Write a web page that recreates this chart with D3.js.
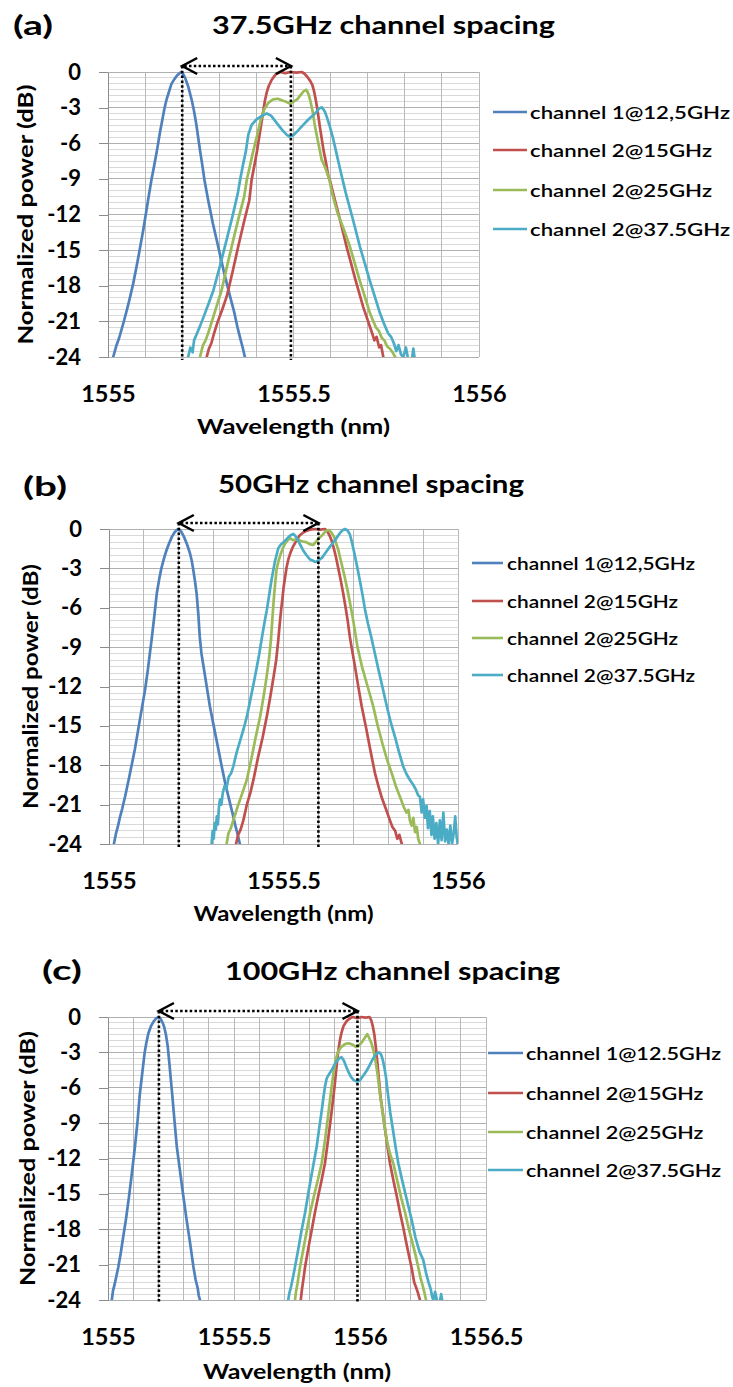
<!DOCTYPE html>
<html><head><meta charset="utf-8">
<script src="https://cdn.jsdelivr.net/npm/d3@7"></script>
<style>
body{margin:0;background:#fff}
svg{display:block}
text{font-family:Lato,"Open Sans","DejaVu Sans",sans-serif;fill:#000}
</style>
</head><body>
<svg id="chart" width="733" height="1387"></svg>
<script>
// ---------------- DATA ----------------
const panelLabels = ["(a)", "(b)", "(c)"];
const panelTitles = ["37.5GHz channel spacing", "50GHz channel spacing", "100GHz channel spacing"];
const legendAB = ["channel 1@12,5GHz", "channel 2@15GHz", "channel 2@25GHz", "channel 2@37.5GHz"];
const legendC  = ["channel 1@12.5GHz", "channel 2@15GHz", "channel 2@25GHz", "channel 2@37.5GHz"];
const seriesColors = ["#4f81bd", "#c0504d", "#9bbb59", "#4bacc6"];
const yTicks = [0, -3, -6, -9, -12, -15, -18, -21, -24];
const yDomain = [-24, 0];
const xTicksAB = [1555, 1555.5, 1556];
const xTicksC = [1555, 1555.5, 1556, 1556.5];
const xDomainAB = [1555, 1556];
const xDomainC = [1555, 1556.5];
const markersA = [1555.2, 1555.493];
const markersB = [1555.2, 1555.6];
const markersC = [1555.202, 1555.99];
const yTitle = "Normalized power (dB)";
const xTitle = "Wavelength (nm)";

// panel (a)
const a_ch1 = [[1555.014,-24],[1555.022,-23.1],[1555.030,-22.4],[1555.041,-21.2],[1555.052,-19.9],[1555.060,-18.9],[1555.068,-17.8],[1555.080,-15.9],[1555.095,-13.3],[1555.108,-10.8],[1555.117,-9.1],[1555.125,-7.8],[1555.132,-6.6],[1555.140,-5.1],[1555.146,-4.1],[1555.152,-3.1],[1555.158,-2.3],[1555.165,-1.6],[1555.171,-1.0],[1555.179,-0.6],[1555.186,-0.3],[1555.193,-0.1],[1555.198,0],[1555.203,-0.2],[1555.208,-0.5],[1555.216,-1.2],[1555.226,-2.4],[1555.232,-3.3],[1555.238,-4.4],[1555.248,-6.6],[1555.254,-7.8],[1555.260,-9.1],[1555.270,-10.8],[1555.283,-12.8],[1555.297,-14.7],[1555.313,-16.9],[1555.329,-18.9],[1555.340,-20.2],[1555.349,-21.5],[1555.357,-22.5],[1555.363,-23.2],[1555.369,-24]];
const a_ch2_15 = [[1555.266,-24],[1555.272,-23.3],[1555.279,-22.8],[1555.286,-22.0],[1555.296,-21.0],[1555.308,-20.0],[1555.320,-18.9],[1555.336,-16.8],[1555.351,-14.7],[1555.366,-12.7],[1555.381,-10.8],[1555.387,-9.1],[1555.395,-7.8],[1555.402,-6.6],[1555.408,-5.4],[1555.413,-4.4],[1555.418,-3.4],[1555.423,-2.4],[1555.428,-1.7],[1555.433,-1.2],[1555.441,-0.67],[1555.452,-0.2],[1555.464,0],[1555.478,-0.1],[1555.492,0],[1555.508,-0.05],[1555.522,0],[1555.530,-0.15],[1555.537,-0.4],[1555.545,-0.75],[1555.551,-1.1],[1555.556,-1.7],[1555.561,-2.5],[1555.566,-3.5],[1555.571,-4.6],[1555.576,-5.6],[1555.581,-6.6],[1555.588,-7.7],[1555.594,-8.8],[1555.598,-9.1],[1555.610,-10.6],[1555.625,-12.4],[1555.643,-14.7],[1555.655,-16.1],[1555.667,-17.5],[1555.678,-18.7],[1555.688,-19.8],[1555.700,-20.9],[1555.712,-22.0],[1555.718,-22.6],[1555.724,-22.3],[1555.731,-23.2],[1555.736,-23.0],[1555.742,-24]];
const a_ch2_25 = [[1555.248,-24],[1555.256,-23.0],[1555.263,-22.6],[1555.270,-22.0],[1555.280,-21.0],[1555.293,-19.7],[1555.306,-18.4],[1555.322,-16.2],[1555.338,-14.1],[1555.352,-12.3],[1555.367,-10.5],[1555.374,-9.1],[1555.382,-8.0],[1555.389,-7.0],[1555.396,-6.1],[1555.403,-5.2],[1555.412,-4.0],[1555.420,-3.2],[1555.432,-2.6],[1555.445,-2.3],[1555.458,-2.25],[1555.470,-2.4],[1555.480,-2.5],[1555.490,-2.65],[1555.500,-2.5],[1555.510,-2.3],[1555.520,-1.9],[1555.528,-1.6],[1555.535,-1.5],[1555.541,-1.9],[1555.546,-2.5],[1555.552,-3.4],[1555.558,-4.6],[1555.567,-6.0],[1555.576,-7.4],[1555.585,-8.0],[1555.597,-9.1],[1555.604,-10.2],[1555.618,-11.8],[1555.635,-13.2],[1555.652,-14.7],[1555.665,-16.1],[1555.678,-17.5],[1555.692,-18.9],[1555.706,-20.3],[1555.714,-20.9],[1555.722,-21.5],[1555.730,-21.8],[1555.738,-22.4],[1555.745,-22.6],[1555.752,-23.1],[1555.760,-23.3],[1555.767,-23.6],[1555.774,-24]];
const a_ch2_375 = [[1555.216,-24],[1555.222,-23.2],[1555.228,-23.6],[1555.232,-22.6],[1555.240,-22.0],[1555.248,-21.4],[1555.258,-20.6],[1555.270,-19.6],[1555.284,-18.4],[1555.302,-16.3],[1555.320,-14.1],[1555.336,-12.1],[1555.350,-10.2],[1555.356,-9.1],[1555.364,-7.8],[1555.372,-6.6],[1555.378,-5.3],[1555.387,-4.46],[1555.400,-4.0],[1555.415,-3.7],[1555.428,-3.48],[1555.440,-3.7],[1555.455,-4.3],[1555.470,-4.9],[1555.482,-5.3],[1555.490,-5.45],[1555.500,-5.3],[1555.510,-5.0],[1555.525,-4.5],[1555.540,-4.0],[1555.558,-3.5],[1555.570,-3.05],[1555.577,-2.98],[1555.584,-3.3],[1555.590,-3.8],[1555.598,-4.6],[1555.606,-5.5],[1555.614,-6.6],[1555.628,-8.5],[1555.641,-10.2],[1555.660,-12.4],[1555.679,-14.7],[1555.692,-16.1],[1555.705,-17.5],[1555.719,-18.9],[1555.733,-20.3],[1555.744,-21.2],[1555.755,-22.0],[1555.763,-22.3],[1555.770,-22.8],[1555.777,-23.5],[1555.783,-23.0],[1555.790,-23.8],[1555.796,-24],[1555.803,-23.2],[1555.808,-24],[1555.815,-25],[1555.820,-24],[1555.823,-23.3],[1555.826,-24]];

// panel (b)
const b_ch1 = [[1555.014,-24],[1555.020,-23.2],[1555.026,-22.6],[1555.031,-22.0],[1555.038,-21.3],[1555.046,-20.4],[1555.058,-18.9],[1555.074,-16.8],[1555.088,-14.6],[1555.103,-12.3],[1555.112,-10.6],[1555.117,-9.5],[1555.122,-8.46],[1555.130,-6.6],[1555.137,-4.9],[1555.144,-3.8],[1555.150,-3.0],[1555.158,-2.2],[1555.165,-1.6],[1555.172,-1.1],[1555.180,-0.6],[1555.188,-0.25],[1555.195,-0.05],[1555.200,0],[1555.207,-0.2],[1555.215,-0.6],[1555.224,-1.2],[1555.232,-1.85],[1555.237,-2.4],[1555.242,-3.2],[1555.247,-4.1],[1555.251,-4.9],[1555.256,-6.5],[1555.260,-8.2],[1555.265,-9.5],[1555.277,-11.5],[1555.289,-13.5],[1555.300,-15.0],[1555.312,-16.6],[1555.323,-18.1],[1555.334,-19.5],[1555.345,-20.7],[1555.356,-21.9],[1555.362,-22.6],[1555.368,-23.2],[1555.375,-24]];
const b_ch2_15 = [[1555.364,-24],[1555.370,-23.3],[1555.377,-22.9],[1555.385,-22.2],[1555.395,-21.0],[1555.405,-20.1],[1555.414,-19.1],[1555.427,-17.4],[1555.440,-15.9],[1555.452,-14.3],[1555.462,-12.8],[1555.472,-11.2],[1555.479,-10.0],[1555.485,-8.46],[1555.489,-7.3],[1555.493,-6.2],[1555.497,-5.3],[1555.500,-4.5],[1555.505,-3.6],[1555.509,-2.9],[1555.514,-2.3],[1555.520,-1.8],[1555.528,-1.3],[1555.538,-0.84],[1555.546,-0.5],[1555.555,-0.3],[1555.565,-0.15],[1555.576,-0.05],[1555.590,0],[1555.605,-0.05],[1555.619,0],[1555.626,-0.2],[1555.632,-0.5],[1555.638,-0.9],[1555.643,-1.35],[1555.650,-2.1],[1555.657,-3.0],[1555.664,-3.9],[1555.671,-4.9],[1555.678,-6.0],[1555.684,-7.0],[1555.690,-8.2],[1555.695,-9.0],[1555.703,-10.2],[1555.713,-11.8],[1555.724,-13.5],[1555.737,-15.2],[1555.750,-17.0],[1555.762,-18.6],[1555.772,-19.6],[1555.782,-20.5],[1555.793,-21.3],[1555.805,-22.2],[1555.812,-22.7],[1555.820,-23.0],[1555.826,-23.6],[1555.832,-23.3],[1555.839,-24]];
const b_ch2_25 = [[1555.337,-24],[1555.342,-23.2],[1555.349,-22.8],[1555.356,-22.2],[1555.368,-21.2],[1555.381,-20.2],[1555.395,-19.1],[1555.408,-17.5],[1555.420,-15.9],[1555.433,-14.3],[1555.444,-12.6],[1555.452,-11.2],[1555.458,-10.0],[1555.464,-8.46],[1555.468,-6.9],[1555.472,-5.4],[1555.476,-4.2],[1555.480,-3.1],[1555.486,-2.4],[1555.492,-1.9],[1555.499,-1.4],[1555.505,-1.1],[1555.512,-0.85],[1555.519,-0.71],[1555.527,-0.85],[1555.535,-0.8],[1555.545,-0.85],[1555.555,-0.95],[1555.565,-1.0],[1555.575,-1.15],[1555.585,-1.22],[1555.592,-1.0],[1555.600,-0.75],[1555.610,-0.5],[1555.618,-0.25],[1555.625,-0.1],[1555.631,-0.08],[1555.638,-0.3],[1555.645,-0.6],[1555.651,-1.1],[1555.657,-1.6],[1555.665,-2.5],[1555.674,-3.5],[1555.683,-4.6],[1555.691,-5.7],[1555.700,-7.0],[1555.712,-9.0],[1555.725,-10.5],[1555.741,-12.0],[1555.757,-13.5],[1555.770,-15.0],[1555.784,-16.4],[1555.797,-17.6],[1555.810,-18.6],[1555.822,-19.6],[1555.835,-20.5],[1555.845,-21.2],[1555.852,-21.6],[1555.858,-21.4],[1555.862,-22.2],[1555.867,-22.6],[1555.872,-22.0],[1555.877,-23.1],[1555.882,-22.7],[1555.886,-23.6],[1555.891,-24]];
const b_ch2_375 = [[1555.294,-24],[1555.297,-23.0],[1555.300,-23.6],[1555.303,-22.4],[1555.306,-22.9],[1555.309,-21.9],[1555.312,-22.5],[1555.315,-21.2],[1555.318,-20.6],[1555.322,-21.0],[1555.326,-20.1],[1555.331,-19.6],[1555.336,-19.8],[1555.343,-18.9],[1555.350,-18.6],[1555.356,-18.1],[1555.366,-17.0],[1555.376,-16.1],[1555.386,-15.2],[1555.395,-14.3],[1555.405,-13.0],[1555.415,-11.7],[1555.423,-10.6],[1555.430,-9.6],[1555.437,-8.46],[1555.445,-7.2],[1555.452,-6.2],[1555.458,-5.2],[1555.462,-4.5],[1555.467,-3.7],[1555.471,-3.1],[1555.476,-2.4],[1555.481,-1.9],[1555.485,-1.47],[1555.492,-1.2],[1555.500,-1.0],[1555.508,-0.8],[1555.515,-0.6],[1555.522,-0.45],[1555.528,-0.38],[1555.533,-0.5],[1555.538,-0.7],[1555.544,-1.0],[1555.550,-1.3],[1555.558,-1.7],[1555.566,-2.0],[1555.575,-2.3],[1555.583,-2.4],[1555.590,-2.5],[1555.595,-2.49],[1555.602,-2.35],[1555.610,-2.2],[1555.618,-1.9],[1555.626,-1.6],[1555.636,-1.25],[1555.645,-0.95],[1555.654,-0.6],[1555.662,-0.3],[1555.669,-0.1],[1555.676,0],[1555.683,-0.1],[1555.690,-0.4],[1555.696,-1.0],[1555.701,-1.6],[1555.705,-2.1],[1555.712,-3.0],[1555.720,-4.1],[1555.727,-5.1],[1555.734,-6.2],[1555.742,-7.2],[1555.752,-8.3],[1555.762,-9.5],[1555.772,-10.7],[1555.784,-12.1],[1555.796,-13.5],[1555.808,-14.8],[1555.820,-15.9],[1555.831,-17.0],[1555.843,-18.1],[1555.853,-18.7],[1555.862,-19.1],[1555.872,-19.5],[1555.880,-19.9],[1555.886,-20.3],[1555.891,-20.4],[1555.896,-21.6],[1555.900,-20.6],[1555.905,-22.0],[1555.910,-21.1],[1555.914,-22.8],[1555.919,-21.5],[1555.924,-23.3],[1555.928,-21.9],[1555.933,-23.6],[1555.938,-22.4],[1555.943,-24],[1555.948,-22.2],[1555.953,-23.7],[1555.958,-21.6],[1555.963,-23.8],[1555.968,-22.9],[1555.973,-24],[1555.978,-22.6],[1555.983,-24],[1555.988,-23.1],[1555.992,-21.9],[1555.996,-23.4],[1555.999,-24]];

// panel (c)
const c_ch1 = [[1555.015,-24],[1555.020,-23.2],[1555.026,-22.7],[1555.033,-22.0],[1555.041,-21.2],[1555.050,-20.1],[1555.060,-18.7],[1555.071,-17.2],[1555.083,-15.3],[1555.095,-13.2],[1555.107,-11.0],[1555.117,-8.9],[1555.126,-6.6],[1555.133,-5.3],[1555.139,-4.2],[1555.145,-3.1],[1555.152,-2.2],[1555.160,-1.4],[1555.170,-0.8],[1555.182,-0.35],[1555.193,-0.08],[1555.202,0],[1555.209,-0.15],[1555.216,-0.45],[1555.223,-0.85],[1555.230,-1.5],[1555.237,-2.5],[1555.243,-3.8],[1555.249,-5.2],[1555.255,-6.6],[1555.263,-8.6],[1555.273,-11.0],[1555.286,-13.1],[1555.299,-15.2],[1555.312,-17.2],[1555.326,-19.2],[1555.339,-21.2],[1555.348,-22.3],[1555.356,-23.0],[1555.360,-23.6],[1555.365,-24]];
const c_ch2_15 = [[1555.765,-24],[1555.769,-23.2],[1555.775,-22.3],[1555.782,-21.2],[1555.795,-19.6],[1555.808,-18.1],[1555.821,-16.6],[1555.834,-15.2],[1555.848,-13.8],[1555.861,-12.4],[1555.874,-10.3],[1555.887,-8.1],[1555.899,-5.9],[1555.906,-4.4],[1555.913,-3.0],[1555.920,-2.0],[1555.927,-1.3],[1555.934,-0.8],[1555.945,-0.4],[1555.955,-0.2],[1555.965,-0.05],[1555.973,0],[1555.990,-0.1],[1556.005,0],[1556.022,-0.05],[1556.038,0],[1556.045,-0.3],[1556.051,-0.8],[1556.057,-1.5],[1556.063,-2.6],[1556.069,-3.9],[1556.075,-5.3],[1556.081,-6.7],[1556.092,-8.4],[1556.105,-10.4],[1556.119,-12.4],[1556.132,-13.8],[1556.146,-15.2],[1556.159,-16.6],[1556.172,-17.9],[1556.185,-19.3],[1556.198,-20.6],[1556.206,-21.4],[1556.215,-22.5],[1556.222,-22.9],[1556.230,-23.4],[1556.238,-24]];
const c_ch2_25 = [[1555.742,-24],[1555.746,-23.3],[1555.752,-22.6],[1555.762,-21.2],[1555.775,-19.7],[1555.789,-18.1],[1555.802,-16.6],[1555.817,-15.2],[1555.833,-13.8],[1555.848,-12.4],[1555.862,-10.3],[1555.875,-8.1],[1555.887,-6.0],[1555.896,-4.6],[1555.905,-3.5],[1555.914,-2.9],[1555.925,-2.55],[1555.940,-2.3],[1555.954,-2.23],[1555.965,-2.3],[1555.975,-2.4],[1555.985,-2.55],[1555.993,-2.5],[1556.005,-2.2],[1556.018,-1.8],[1556.029,-1.45],[1556.037,-1.8],[1556.045,-2.2],[1556.053,-2.8],[1556.060,-3.5],[1556.070,-4.9],[1556.079,-6.5],[1556.092,-8.4],[1556.106,-10.4],[1556.119,-11.6],[1556.132,-12.4],[1556.148,-13.9],[1556.163,-15.3],[1556.179,-16.6],[1556.194,-18.0],[1556.210,-19.3],[1556.225,-20.6],[1556.234,-21.5],[1556.242,-22.3],[1556.249,-22.8],[1556.256,-23.4],[1556.262,-24]];
const c_ch2_375 = [[1555.715,-24],[1555.720,-23.4],[1555.726,-22.9],[1555.733,-22.2],[1555.742,-21.2],[1555.755,-19.7],[1555.768,-18.1],[1555.782,-16.6],[1555.796,-14.8],[1555.812,-12.9],[1555.828,-11.0],[1555.841,-9.0],[1555.849,-7.8],[1555.855,-6.8],[1555.861,-5.9],[1555.868,-5.2],[1555.877,-4.85],[1555.888,-4.5],[1555.900,-4.0],[1555.911,-3.65],[1555.920,-3.48],[1555.927,-3.42],[1555.936,-3.7],[1555.945,-4.2],[1555.955,-4.7],[1555.965,-5.1],[1555.975,-5.35],[1555.989,-5.5],[1556.000,-5.35],[1556.012,-5.0],[1556.025,-4.6],[1556.038,-4.1],[1556.050,-3.6],[1556.062,-3.2],[1556.070,-3.05],[1556.077,-3.0],[1556.084,-3.2],[1556.090,-3.6],[1556.097,-4.3],[1556.103,-5.1],[1556.110,-6.4],[1556.120,-8.1],[1556.131,-9.6],[1556.141,-11.0],[1556.152,-12.4],[1556.169,-14.0],[1556.187,-15.6],[1556.205,-17.2],[1556.220,-18.7],[1556.236,-19.9],[1556.251,-20.6],[1556.262,-21.7],[1556.272,-22.5],[1556.281,-23.1],[1556.286,-23.7],[1556.291,-24],[1556.298,-23.3],[1556.305,-24],[1556.312,-25],[1556.318,-24],[1556.322,-23.5],[1556.326,-24]];

// ---------------- LAYOUT (positions only) ----------------
const layout = [
  {top:72, bottom:357, left:108, right:479, labelX:13, labelY:35, labelW:40, titleX:212, titleY:34, titleW:343,
   legX1:493, legX2:527, legTX:530, legY:[112,150,190,229], legW0:200, yTitleX:33, yTitleW:260, xTitleY:434, xTitleW:193},
  {top:529, bottom:844, left:109, right:458, labelX:23, labelY:496, labelW:44, titleX:218, titleY:493, titleW:306,
   legX1:472, legX2:503, legTX:507, legY:[563,601,638,675], legW0:188, yTitleX:38, yTitleW:245, xTitleY:921, xTitleW:180},
  {top:1017, bottom:1300, left:108, right:486, labelX:42, labelY:980, labelW:40, titleX:225, titleY:980, titleW:335,
   legX1:488, legX2:523, legTX:526, legY:[1053,1093,1132,1170], legW0:195, yTitleX:35, yTitleW:255, xTitleY:1379, xTitleW:188}
];

const panels = [
  {series:[a_ch1,a_ch2_15,a_ch2_25,a_ch2_375], names:legendAB, xDomain:xDomainAB, xTicks:xTicksAB, markers:markersA},
  {series:[b_ch1,b_ch2_15,b_ch2_25,b_ch2_375], names:legendAB, xDomain:xDomainAB, xTicks:xTicksAB, markers:markersB},
  {series:[c_ch1,c_ch2_15,c_ch2_25,c_ch2_375], names:legendC, xDomain:xDomainC, xTicks:xTicksC, markers:markersC}
];

// ---------------- DRAW ----------------
const svg = d3.select("#chart");
svg.append("rect").attr("width",733).attr("height",1387).attr("fill","#fff");

panels.forEach((p, i) => {
  const L = layout[i];
  const x = d3.scaleLinear().domain(p.xDomain).range([L.left, L.right]);
  const y = d3.scaleLinear().domain(yDomain).range([L.bottom, L.top]);
  const g = svg.append("g");

  // minor horizontal gridlines (0.5 dB)
  g.append("g").selectAll("line").data(y.ticks(48)).join("line")
    .attr("x1", L.left).attr("x2", L.right)
    .attr("y1", d => y(d)).attr("y2", d => y(d))
    .attr("stroke", "#d9d9d9").attr("stroke-width", 1).attr("shape-rendering","crispEdges");
  // vertical gridlines (0.1 nm)
  const nV = Math.round((p.xDomain[1]-p.xDomain[0])*10);
  g.append("g").selectAll("line").data(x.ticks(nV)).join("line")
    .attr("x1", d => x(d)).attr("x2", d => x(d))
    .attr("y1", L.top).attr("y2", L.bottom)
    .attr("stroke", "#b9b9b9").attr("stroke-width", 1).attr("shape-rendering","crispEdges");
  // major horizontal gridlines
  g.append("g").selectAll("line").data(yTicks).join("line")
    .attr("x1", L.left).attr("x2", L.right)
    .attr("y1", d => y(d)).attr("y2", d => y(d))
    .attr("stroke", "#b0b0b0").attr("stroke-width", 1).attr("shape-rendering","crispEdges");

  // y axis
  const ya = g.append("g").attr("transform", `translate(${L.left},0)`)
    .call(d3.axisLeft(y).tickValues(yTicks).tickSize(9).tickSizeOuter(0).tickPadding(18).tickFormat(d => String(d)));
  ya.select(".domain").attr("stroke", "#8c8c8c").attr("shape-rendering","crispEdges");
  ya.selectAll(".tick line").attr("stroke", "#8c8c8c").attr("shape-rendering","crispEdges");
  ya.selectAll(".tick text").attr("font-family", "Lato, sans-serif").attr("font-size", 22)
    .attr("font-weight", 700).attr("fill", "#000");

  // x axis labels
  const xa = g.append("g").attr("transform", `translate(0,${L.bottom})`)
    .call(d3.axisBottom(x).tickValues(p.xTicks).tickSize(0).tickPadding(28).tickFormat(d => String(d)));
  xa.select(".domain").remove();
  xa.selectAll(".tick text").attr("font-family", "Lato, sans-serif").attr("font-size", 23.5)
    .attr("font-weight", 700).attr("fill", "#000");

  // curves
  const clipId = "clip" + i;
  svg.append("defs").append("clipPath").attr("id", clipId).append("rect")
    .attr("x", L.left).attr("y", L.top - 2).attr("width", L.right - L.left).attr("height", L.bottom - L.top + 2);
  const line = d3.line().x(d => x(d[0])).y(d => y(d[1]));
  g.append("g").attr("clip-path", `url(#${clipId})`).selectAll("path").data(p.series).join("path")
    .attr("d", line).attr("fill", "none")
    .attr("stroke", (d, k) => seriesColors[k]).attr("stroke-width", 2.7)
    .attr("stroke-linejoin", "round").attr("stroke-linecap", "round");

  // dotted markers
  const ay = L.top - 6;
  g.append("g").selectAll("line").data(p.markers).join("line")
    .attr("x1", d => x(d)).attr("x2", d => x(d))
    .attr("y1", ay).attr("y2", L.bottom + 3)
    .attr("stroke", "#000").attr("stroke-width", 2.6).attr("stroke-dasharray", "2.5,2.3");
  // arrow
  const x1 = x(p.markers[0]), x2 = x(p.markers[1]);
  g.append("line").attr("x1", x1 + 2).attr("x2", x2 - 2).attr("y1", ay).attr("y2", ay)
    .attr("stroke", "#000").attr("stroke-width", 2.6).attr("stroke-dasharray", "2.5,2.3");
  g.append("path").attr("d", `M${x1+15},${ay-8} L${x1},${ay} L${x1+15},${ay+8}`)
    .attr("fill", "none").attr("stroke", "#000").attr("stroke-width", 2.5);
  g.append("path").attr("d", `M${x2-15},${ay-8} L${x2},${ay} L${x2-15},${ay+8}`)
    .attr("fill", "none").attr("stroke", "#000").attr("stroke-width", 2.5);

  // legend
  const leg = g.append("g");
  const rows = leg.selectAll("g").data(p.names).join("g");
  rows.append("line").attr("x1", L.legX1).attr("x2", L.legX2)
    .attr("y1", (d, k) => L.legY[k]).attr("y2", (d, k) => L.legY[k])
    .attr("stroke", (d, k) => seriesColors[k]).attr("stroke-width", 2.6);
  const lt = rows.append("text").attr("x", L.legTX).attr("y", (d, k) => L.legY[k] + 7)
    .attr("font-size", 18).attr("font-weight", 600).text(d => d);
  const nat = lt.nodes().map(n => n.getComputedTextLength());
  const kk = L.legW0 / nat[0];
  lt.attr("textLength", (d, k) => nat[k] * kk).attr("lengthAdjust", "spacingAndGlyphs");

  // panel label & title
  g.append("text").attr("x", L.labelX).attr("y", L.labelY).attr("font-size", 26).attr("font-weight", 700)
    .attr("textLength", L.labelW).attr("lengthAdjust", "spacingAndGlyphs").text(panelLabels[i]);
  g.append("text").attr("x", L.titleX).attr("y", L.titleY).attr("font-size", 25).attr("font-weight", 700)
    .attr("textLength", L.titleW).attr("lengthAdjust", "spacingAndGlyphs").text(panelTitles[i]);

  // axis titles
  g.append("text").attr("transform", `translate(${L.yTitleX},${(L.top + L.bottom) / 2}) rotate(-90)`)
    .attr("text-anchor", "middle").attr("font-size", 21).attr("font-weight", 700)
    .attr("textLength", L.yTitleW).attr("lengthAdjust", "spacingAndGlyphs").text(yTitle);
  g.append("text").attr("x", (L.left + L.right) / 2).attr("y", L.xTitleY)
    .attr("text-anchor", "middle").attr("font-size", 21).attr("font-weight", 700)
    .attr("textLength", L.xTitleW).attr("lengthAdjust", "spacingAndGlyphs").text(xTitle);
});
</script>
</body></html>
